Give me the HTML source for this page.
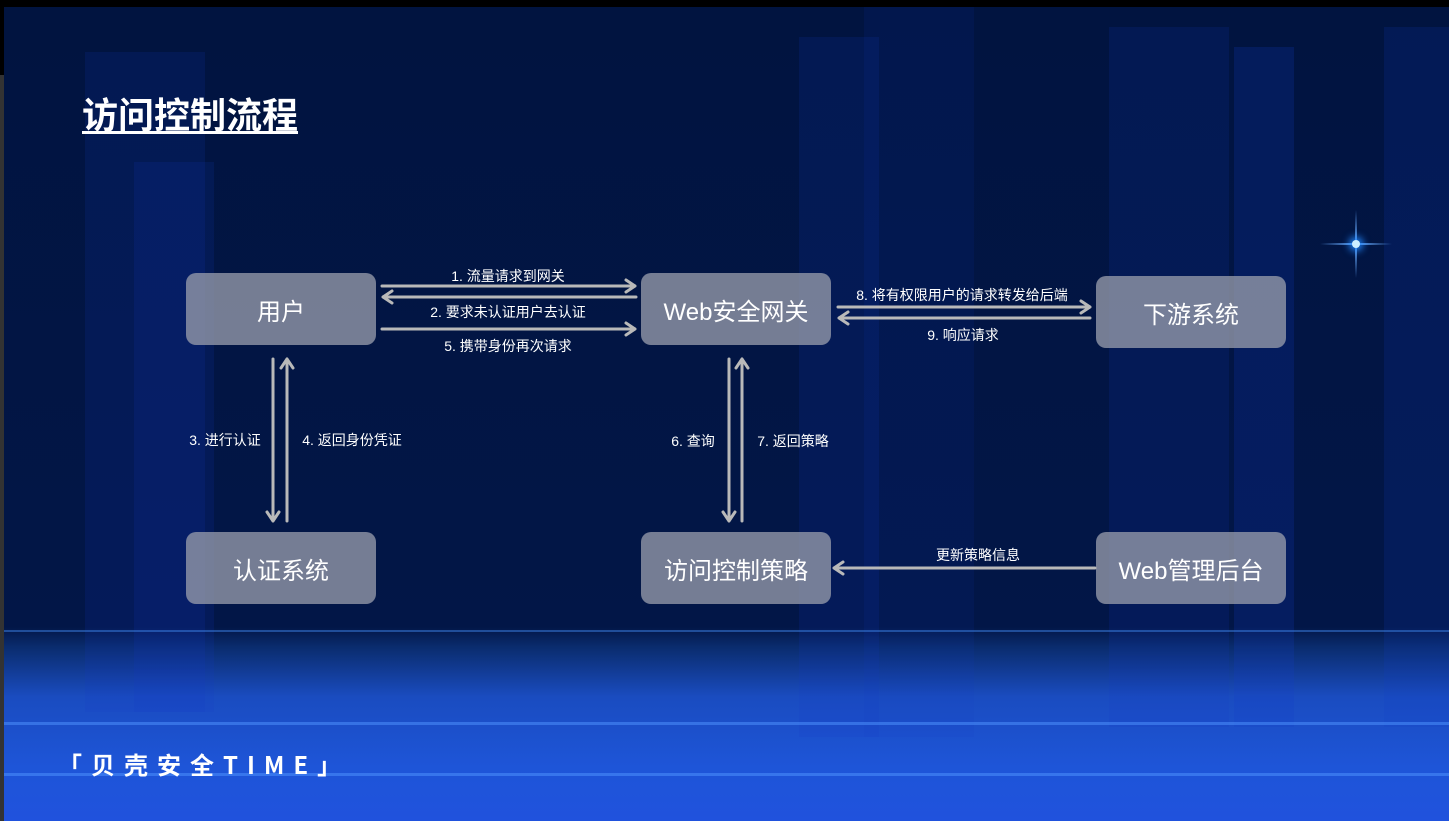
<!DOCTYPE html>
<html><head><meta charset="utf-8"><style>
body{margin:0;width:1449px;height:821px;overflow:hidden;background:#000;position:relative;font-family:"Liberation Sans","Noto Sans CJK SC",sans-serif}
.bg{position:absolute;left:4px;top:7px;width:1445px;height:814px;background:linear-gradient(#011440 0,#021647 620px,#0a2c6e 640px,#1a4cc0 690px,#1e55d8 760px,#2052dd 814px);overflow:hidden}
.col{position:absolute;background:rgba(20,60,200,0.14)}
.box{position:absolute;width:190px;height:72px;border-radius:10px;background:rgba(150,155,170,0.78);color:#fff;font-size:24px;display:flex;align-items:center;justify-content:center}
.lb{position:absolute;color:#fff;font-size:14px;white-space:nowrap;transform:translateX(-50%)}
</style></head><body>
<div style="position:absolute;left:0;top:75px;width:4px;height:746px;background:#333"></div>
<div class="bg">
<div class="col" style="left:81px;top:45px;width:120px;height:660px"></div>
<div class="col" style="left:130px;top:155px;width:80px;height:550px"></div>
<div class="col" style="left:795px;top:30px;width:80px;height:700px"></div>
<div class="col" style="left:860px;top:0;width:110px;height:730px;background:rgba(20,60,200,0.1)"></div>
<div class="col" style="left:1105px;top:20px;width:120px;height:700px"></div>
<div class="col" style="left:1230px;top:40px;width:60px;height:680px;background:rgba(20,60,200,0.2)"></div>
<div class="col" style="left:1380px;top:20px;width:65px;height:700px;background:rgba(20,60,200,0.16)"></div>
<div style="position:absolute;left:0;top:623px;width:1445px;height:2px;background:rgba(60,130,230,0.5)"></div>
<div style="position:absolute;left:0;top:715px;width:1445px;height:3px;background:rgba(80,150,255,0.5)"></div>
<div style="position:absolute;left:0;top:766px;width:1445px;height:3px;background:rgba(80,150,255,0.5)"></div>
</div>
<div style="position:absolute;left:1320px;top:243px;width:72px;height:2px;background:linear-gradient(90deg,transparent,#6af,transparent)"></div>
<div style="position:absolute;left:1355px;top:210px;width:2px;height:68px;background:linear-gradient(transparent,#6af,transparent)"></div>
<div style="position:absolute;left:1352px;top:240px;width:8px;height:8px;border-radius:50%;background:#cef;box-shadow:0 0 8px 3px #28f"></div>
<div style="position:absolute;left:82px;top:87px;color:#fff;font-size:36px;font-weight:bold;text-decoration:underline;text-underline-offset:3px;font-family:'Noto Sans CJK SC',sans-serif">访问控制流程</div>
<div style="position:absolute;left:58px;top:746px;color:#fff;font-size:24px;font-weight:bold;letter-spacing:9px;font-family:'Noto Sans CJK SC',sans-serif">「贝壳安全TIME」</div>

<div class="box" style="left:186px;top:273px">用户</div>
<div class="box" style="left:641px;top:273px">Web安全网关</div>
<div class="box" style="left:1096px;top:276px">下游系统</div>
<div class="box" style="left:186px;top:532px">认证系统</div>
<div class="box" style="left:641px;top:532px">访问控制策略</div>
<div class="box" style="left:1096px;top:532px">Web管理后台</div>

<svg width="1449" height="821" style="position:absolute;left:0;top:0" fill="none" stroke="#b9b9b9" stroke-width="3">
<g stroke-linecap="round">
<path d="M382 286H635M635 286l-9 -6M635 286l-9 6"/>
<path d="M636 297H383M383 297l9 -6M383 297l9 6"/>
<path d="M382 329H635M635 329l-9 -6M635 329l-9 6"/>
<path d="M838 307H1090M1090 307l-9 -6M1090 307l-9 6"/>
<path d="M1090 318H839M839 318l9 -6M839 318l9 6"/>
<path d="M273 359V521M273 521l-6 -9M273 521l6 -9"/>
<path d="M287 521V359M287 359l-6 9M287 359l6 9"/>
<path d="M729 359V521M729 521l-6 -9M729 521l6 -9"/>
<path d="M742 521V359M742 359l-6 9M742 359l6 9"/>
<path d="M1095 568H834M834 568l9 -6M834 568l9 6"/>
</g></svg>

<div class="lb" style="left:508px;top:266px">1. 流量请求到网关</div>
<div class="lb" style="left:508px;top:302px">2. 要求未认证用户去认证</div>
<div class="lb" style="left:508px;top:336px">5. 携带身份再次请求</div>
<div class="lb" style="left:962px;top:285px">8. 将有权限用户的请求转发给后端</div>
<div class="lb" style="left:963px;top:325px">9. 响应请求</div>
<div class="lb" style="left:225px;top:430px">3. 进行认证</div>
<div class="lb" style="left:352px;top:430px">4. 返回身份凭证</div>
<div class="lb" style="left:693px;top:431px">6. 查询</div>
<div class="lb" style="left:793px;top:431px">7. 返回策略</div>
<div class="lb" style="left:978px;top:545px">更新策略信息</div>
</body></html>
